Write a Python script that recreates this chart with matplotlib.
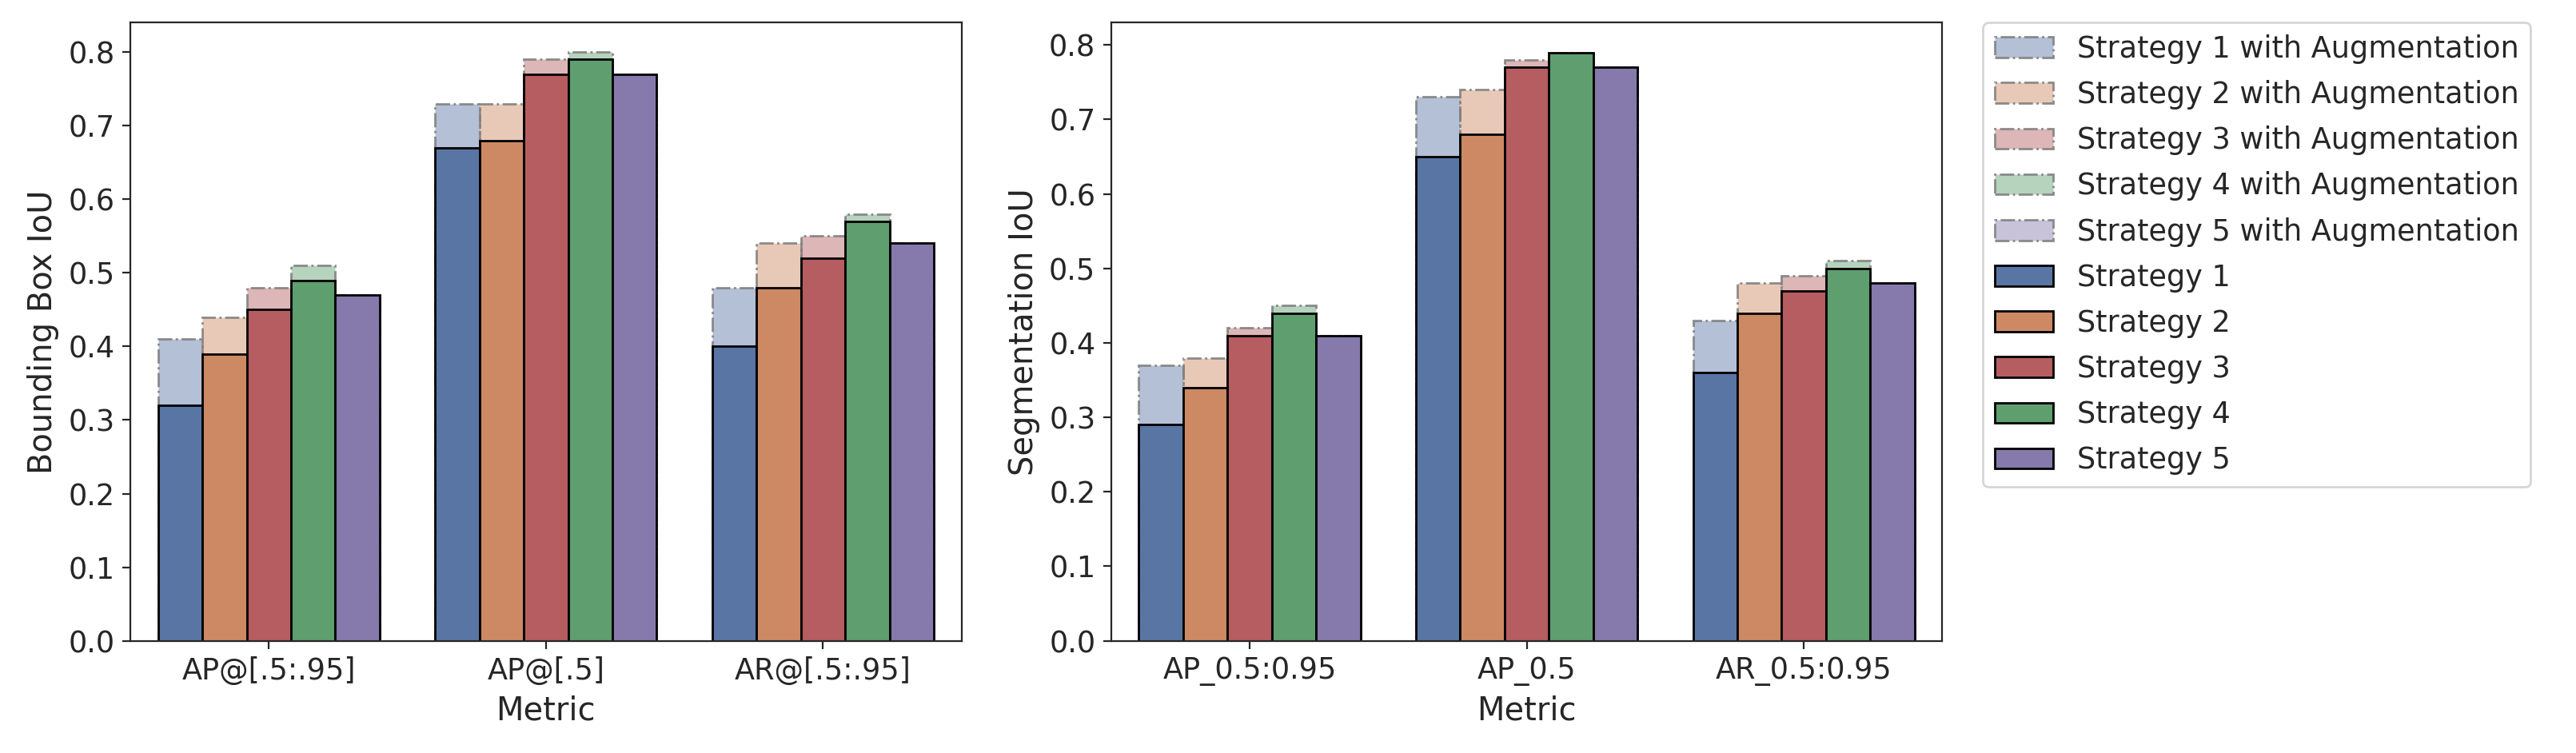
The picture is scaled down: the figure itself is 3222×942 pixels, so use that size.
import matplotlib
matplotlib.use("Agg")
import matplotlib.pyplot as plt
import seaborn as sns
import numpy as np

sns.set_style("ticks")
plt.rcParams['font.family'] = ['DejaVu Sans']

strategies = ["Strategy 1", "Strategy 2", "Strategy 3", "Strategy 4", "Strategy 5"]
bbox_metrics = ["AP@[.5:.95]", "AP@[.5]", "AR@[.5:.95]"]
seg_metrics = ["AP_0.5:0.95", "AP_0.5", "AR_0.5:0.95"]

# rows: strategies, cols: metrics
bbox_base = [[0.32, 0.67, 0.40],
             [0.39, 0.68, 0.48],
             [0.45, 0.77, 0.52],
             [0.49, 0.79, 0.57],
             [0.47, 0.77, 0.54]]
bbox_aug = [[0.41, 0.73, 0.48],
            [0.44, 0.73, 0.54],
            [0.48, 0.79, 0.55],
            [0.51, 0.80, 0.58],
            [0.47, 0.77, 0.54]]
seg_base = [[0.29, 0.65, 0.36],
            [0.34, 0.68, 0.44],
            [0.41, 0.77, 0.47],
            [0.44, 0.79, 0.50],
            [0.41, 0.77, 0.48]]
seg_aug = [[0.37, 0.73, 0.43],
           [0.38, 0.74, 0.48],
           [0.42, 0.78, 0.49],
           [0.45, 0.79, 0.51],
           [0.41, 0.77, 0.48]]

deep = sns.color_palette("deep", 5)
base_colors = [deep[0], deep[1], deep[3], deep[2], deep[4]]
palette = [sns.desaturate(c, 0.75) for c in base_colors]

fig, axes = plt.subplots(1, 2, figsize=(16.11, 4.71), dpi=200)
fig.subplots_adjust(left=0.0506, right=0.754, bottom=0.149, top=0.970, wspace=0.18)

n = len(strategies)
w = 0.8 / n

def draw(ax, metrics, base, aug, ylabel):
    x = np.arange(len(metrics))
    for i in range(n):
        pos = x - 0.4 + w * (i + 0.5)
        ax.bar(pos, aug[i], width=w, facecolor=(*palette[i], 0.45),
               edgecolor=(0.5, 0.5, 0.5, 0.9), linestyle="-.", linewidth=1.0,
               label=f"{strategies[i]} with Augmentation")
    for i in range(n):
        pos = x - 0.4 + w * (i + 0.5)
        ax.bar(pos, base[i], width=w, color=palette[i], edgecolor="black",
               linewidth=1.0, label=strategies[i])
    ax.set_xticks(x)
    ax.set_xticklabels(metrics)
    ax.set_xlim(-0.5, len(metrics) - 0.5)
    ax.set_xlabel("Metric", fontsize=14.4)
    ax.set_ylabel(ylabel, fontsize=14.4)
    ax.tick_params(labelsize=13.2)
    for s in ax.spines.values():
        s.set_visible(True)

draw(axes[0], bbox_metrics, bbox_base, bbox_aug, "Bounding Box IoU")
draw(axes[1], seg_metrics, seg_base, seg_aug, "Segmentation IoU")
axes[0].set_ylim(0, 0.84)
axes[1].set_ylim(0, 0.83)

axes[1].legend(loc="upper left", bbox_to_anchor=(1.049, 1.0), borderaxespad=0,
               fontsize=13.2, labelspacing=0.55)

fig.savefig("out.png", dpi=200)
